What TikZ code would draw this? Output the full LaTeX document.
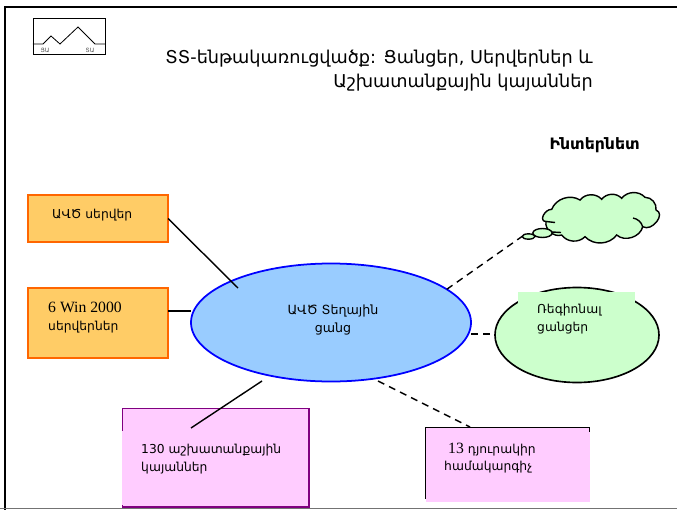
\documentclass[tikz,border=0pt]{standalone}
\usepackage{fontspec}
\setmainfont{DejaVu Sans}
\newfontfamily\latinfont{Liberation Serif}
\usetikzlibrary{shapes.geometric}
\usetikzlibrary{positioning}
\definecolor{serverfill}{HTML}{FFCC66}
\definecolor{serverline}{HTML}{FF6600}
\definecolor{lanfill}{HTML}{99CCFF}
\definecolor{greenfill}{HTML}{CCFFCC}
\definecolor{pinkfill}{HTML}{FFCCFF}
\definecolor{pinkline}{HTML}{800080}
\tikzstyle{frameline}=[line width=1.7pt]
\tikzstyle{server}=[rectangle,draw=serverline,fill=serverfill,line width=1.7pt,minimum width=4.2cm,outer sep=0]
\tikzstyle{lan}=[ellipse,draw=blue,fill=lanfill,line width=1.5pt,minimum width=8.4cm,minimum height=3.54cm,outer sep=0,inner sep=0]
\tikzstyle{green}=[ellipse,draw=black,fill=greenfill,line width=1.4pt,minimum width=4.92cm,minimum height=2.85cm,outer sep=0,inner sep=0]
\tikzstyle{puff}=[ellipse,draw=black,fill=greenfill,line width=1.2pt,outer sep=0,inner sep=0]
\tikzstyle{patch}=[rectangle,minimum width=1mm,outer sep=0,inner sep=0]
\tikzstyle{txt}=[anchor=west,align=left,font=\fontsize{10.5}{15.3}\selectfont,inner sep=0]
\tikzstyle{connect}=[line width=1.2pt]
\tikzstyle{dashconnect}=[line width=1.2pt,dash pattern=on 6pt off 4.5pt]

\begin{document}
\begin{tikzpicture}[x=0.03cm,y=-0.03cm]
\useasboundingbox (0,0) rectangle (677,510);
% slide border
\draw[frameline] (5,510) -- (5,7) -- (677,7);
\draw[line width=1.2pt,black!55] (0,508.5) -- (677,508.5);

% logo
\node[draw,line width=0.7pt,minimum width=2.16cm,minimum height=1.08cm,outer sep=0,inner sep=0] (logo) at (69,36) {};
\draw[line width=0.7pt] (logo.west |- 0,44) -- (43,44) -- (51,36) -- (60,44) -- (78,27) -- (95,44) -- (logo.east |- 0,44);
\node[font=\fontsize{5}{6}\selectfont,text=black!70,inner sep=0] (logoa) at (45,50.5) {ՅԱ};
\node[font=\fontsize{5}{6}\selectfont,text=black!70,inner sep=0] (logob) at (90,50.5) {ՏԱ};

% title
\node[anchor=east,align=right,font=\fontsize{15.1}{20.5}\selectfont,inner sep=0] (title) at (593,71) {ՏՏ-ենթակառուցվածք: Ցանցեր, Սերվերներ և\\Աշխատանքային կայաններ};
\node[anchor=east,font=\bfseries\fontsize{13.4}{16}\selectfont,inner sep=0] (inet) at (640,145) {Ինտերնետ};

% servers
\node[server,minimum height=1.41cm] (srv) at (98,218.5) {};
\node[server,minimum height=2.1cm] (win) at (98,323) {};
\node[txt] (srvtxt) at (52,215) {ԱՎԾ սերվեր};
\node[txt] (wintxt) at (48,318) {{\latinfont\fontsize{13.4}{15.3}\selectfont 6 Win 2000}\\սերվերներ};

% lan
\node[lan] (lan) at (331,322.5) {};
\node[align=center,font=\fontsize{10.8}{15.3}\selectfont,inner sep=0] (lantxt) at (333,320) {ԱՎԾ Տեղային\\ցանց};

% regional
\node[green] (region) at (577,335) {};
\node[patch,fill=greenfill,minimum width=3.51cm,minimum height=1.4cm] (regionbox) at (576.5,315) {};
\node[txt] (regiontxt) at (537,319) {Ռեգիոնալ\\ցանցեր};

% cloud
\draw[fill=greenfill,line width=1.2pt] (551.7,209.3) to[bend left=50] (580,200) to[bend left=50] (601.7,199.3)
  to[bend left=50] (621.7,198.3) to[bend left=50] (645,197.3) to[bend left=50] (656,210)
  to[out=-20,in=-30,looseness=1.3] (642.7,226.7) to[bend left=60] (616.7,235) to[bend left=50] (585,236.7)
  to[bend left=50] (561.7,235) to[bend left=60] (546,221.5)
  to[out=180,in=180,looseness=1.4] (551.7,209.3) -- cycle;
\draw[line width=1.2pt] (546,221.5) -- (555,222.5);
\draw[line width=1.2pt] (633,218) to[bend left=30] (642.7,226.7);
\draw[line width=1.2pt] (552,232) -- (561,232.5);
\node[puff,minimum width=0.58cm,minimum height=0.27cm] (puffa) at (542.5,233) {};
\node[puff,minimum width=0.39cm,minimum height=0.16cm] (puffb) at (528.5,236.5) {};

% workstations
\node[rectangle,draw=pinkline,fill=pinkfill,line width=1.7pt,minimum width=5.58cm,minimum height=2.94cm,outer sep=0] (wks) at (215.5,457.5) {};
\node[patch,fill=pinkfill,minimum width=5.6cm,minimum height=2.2cm] (wksbox) at (215,468) {};
\node[txt] (wkstxt) at (141,459) {130 աշխատանքային\\կայաններ};

% notebooks
\node[rectangle,draw=black,fill=pinkfill,line width=0.8pt,minimum width=4.92cm,minimum height=2.13cm,outer sep=0] (lap) at (507,463) {};
\draw[line width=1.7pt] (lap.north west) -- (lap.north east);
\node[patch,fill=pinkfill,minimum width=4.92cm,minimum height=2.1cm] (lapbox) at (507.5,467) {};
\node[txt] (laptxta) at (448,450) {{\latinfont\fontsize{13.4}{15.3}\selectfont 13} դյուրակիր};
\node[txt] (laptxtb) at (444,467) {համակարգիչ};

% connectors
\coordinate (lanin) at (238,288);
\coordinate (lanleft) at (191,311);
\coordinate (lanmid) at (471,334);
\coordinate (lanlow) at (262,381);
\coordinate (wksin) at (191,428);
\coordinate (lanright) at (378,381);
\coordinate (lapin) at (470,427);
\draw[connect] (srv.east) -- (lanin);
\draw[connect] (win.east |- lanleft) -- (lanleft);
\draw[connect] (lanlow) -- (wksin);
\draw[dashconnect] (lan.16) -- (puffb.west);
\draw[dashconnect] (lanmid) -- (region.west |- lanmid);
\draw[dashconnect] (lanright) -- (lapin);
\end{tikzpicture}
\end{document}
